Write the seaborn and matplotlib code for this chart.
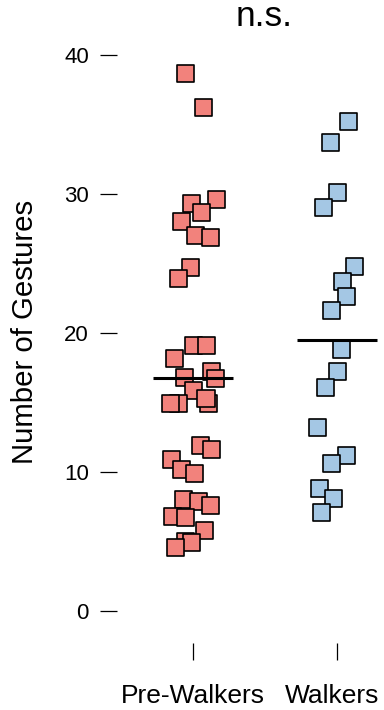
import numpy as np
import pandas as pd
import matplotlib
matplotlib.use("Agg")
import matplotlib.pyplot as plt
import matplotlib.transforms as mtransforms
import seaborn as sns

# Gesture counts per child, with the horizontal jitter used to spread each strip
groups = ["Pre-Walkers", "Walkers"]

pre_walkers = [38.7, 36.2, 29.3, 29.6, 28.7, 28.0, 27.0, 26.9, 24.7, 23.9,
               19.1, 19.1, 18.2, 17.2, 16.8, 16.7, 15.9, 14.9, 15.3, 14.9, 14.9,
               11.9, 11.6, 10.9, 10.2, 9.9,
               8.0, 7.9, 7.6, 6.8, 6.7, 5.8, 5.0, 4.9, 4.6]
pre_jitter = [-0.05, 0.07, -0.01, 0.16, 0.06, -0.08, 0.02, 0.12, -0.02, -0.10,
              0.00, 0.095, -0.13, 0.125, -0.06, 0.155, 0.00, 0.105, 0.09, -0.10, -0.155,
              0.05, 0.125, -0.15, -0.083, 0.01,
              -0.067, 0.04, 0.118, -0.14, -0.055, 0.083, -0.055, -0.01, -0.125]

walkers = [35.2, 33.7, 30.1, 29.0, 24.8, 23.7, 22.6, 21.6,
           18.8, 17.2, 16.1, 13.2, 11.2, 10.6, 8.8, 8.1, 7.1]
walk_jitter = [0.08, -0.045, 0.00, -0.095, 0.12, 0.037, 0.063, -0.037,
               0.033, 0.00, -0.078, -0.137, 0.067, -0.037, -0.125, -0.026, -0.106]

y_ticks = [0, 10, 20, 30, 40]
palette = {"Pre-Walkers": "#F2827C", "Walkers": "#A4C7E4"}

df = pd.DataFrame({
    "group": [groups[0]] * len(pre_walkers) + [groups[1]] * len(walkers),
    "gestures": pre_walkers + walkers,
    "jitter": pre_jitter + walk_jitter,
})
df["pos"] = df["group"].map({g: i for i, g in enumerate(groups)}) + df["jitter"]

sns.set_style("white")
plt.rcParams["font.family"] = ["Liberation Sans", "DejaVu Sans"]
plt.rcParams["text.color"] = "black"
plt.rcParams["xtick.color"] = "black"
plt.rcParams["ytick.color"] = "black"

fig = plt.figure(figsize=(3.84, 7.10), dpi=100)
ax = fig.add_axes([117 / 384, 67 / 710, 1 - 117 / 384, 1 - 67 / 710])

sns.scatterplot(data=df, x="pos", y="gestures", hue="group", palette=palette,
                marker="s", s=150, edgecolor="black", linewidth=1.2,
                legend=False, ax=ax, zorder=3)

# group means
for i, g in enumerate(groups):
    m = df.loc[df["group"] == g, "gestures"].mean()
    ax.hlines(m, i - 0.28, i + 0.28, color="black", linewidth=2.2, zorder=4)

ax.set_xlim(-0.528, 1.326)
ax.set_ylim(-2.3, 43.96)
ax.set_xticks([0, 1])
ax.set_xticklabels(groups)
ax.set_yticks(y_ticks)
ax.set_xlabel("")
ax.set_ylabel("")
for sp in ax.spines.values():
    sp.set_visible(False)

ax.tick_params(axis="y", direction="out", length=12.2, width=0.9, pad=8,
               labelsize=16, left=True, colors="black")
ax.tick_params(axis="x", direction="out", length=12.2, width=0.9, pad=17,
               labelsize=19, bottom=True, colors="black")

# nudge the right-hand group label inward so it stays inside the canvas
lbl = ax.get_xticklabels()[1]
lbl.set_transform(lbl.get_transform() +
                  mtransforms.ScaledTranslation(-5 / 100, 0, fig.dpi_scale_trans))

fig.text(25 / 384, 1 - 332 / 710, "Number of Gestures", rotation=90,
         ha="center", va="center", fontsize=21.2, color="black")
fig.text(264 / 384, 1 - 17 / 710, "n.s.", ha="center", va="center",
         fontsize=25.5, color="black")

fig.savefig("out.png", dpi=100)
